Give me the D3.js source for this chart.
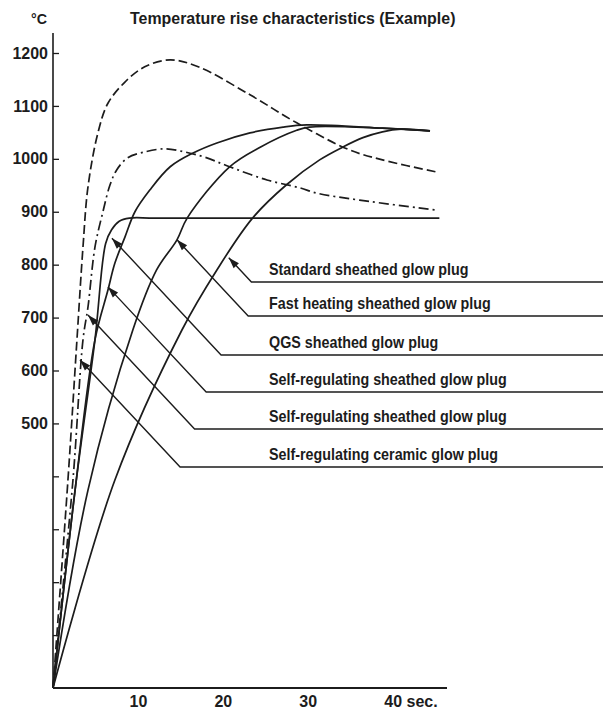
<!DOCTYPE html>
<html>
<head>
<meta charset="utf-8">
<script src="https://cdn.jsdelivr.net/npm/d3@7"></script>
<style>
  html, body { margin: 0; padding: 0; background: #fff; }
  svg { display: block; }
  text {
    font-family: "Liberation Sans", Arial, sans-serif;
    font-weight: bold;
    fill: #1c1c1c;
  }
</style>
</head>
<body>
<svg id="chart" width="603" height="710"></svg>
<script>
// Temperature rise curves: [seconds, °C]
const standardPlug = [[0,0],[7.29,393],[15.2,677],[19.3,790],[23.5,888],[27.5,951],[31.4,998],[34.1,1022],[36.5,1040],[38.8,1051],[41,1056],[44.4,1053]];
const fastHeatingPlug = [[0,0],[4.12,374],[9.41,677],[12.2,790],[14.6,847],[15.8,888],[20.8,985],[24.4,1022],[28.7,1054],[30.2,1060],[38.8,1058],[44.4,1053]];
const qgsPlug = [[0,0],[2.6,374],[4.94,658],[6.2,840],[6.9,866],[7.8,882],[9.0,888],[12,888],[45.5,888]];
const selfRegSheathedSolid = [[0,0],[2.6,374],[4.94,658],[6.47,752],[7.29,803],[8.47,852],[9.65,900],[11.4,941],[13.8,985],[16.5,1011],[19.3,1030],[23.2,1049],[27.1,1060],[29.9,1064],[38.8,1058],[44.4,1053]];
const selfRegSheathedDashDot = [[0,0],[2.35,393],[3.53,658],[4.12,720],[4.94,833],[5.88,900],[6.7,950],[7.5,979],[8.8,1002],[10.8,1013],[13.2,1019],[15.5,1013],[17.9,1003],[20.8,985],[25.2,960],[29.1,945],[31.1,935],[36.1,922],[45.3,903]];
const selfRegCeramic = [[0,0],[1.76,393],[2.82,658],[3.53,833],[4.12,947],[5.29,1049],[6.47,1105],[8.47,1145],[10.8,1174],[13.8,1187],[17.1,1174],[23.2,1121],[28.7,1068],[34.9,1017],[38.8,998],[45.2,975]];

// Legend rows (top to bottom) and the curve point each pointer arrow touches
const plugNames = ["Standard sheathed glow plug", "Fast heating sheathed glow plug", "QGS sheathed glow plug",
                   "Self-regulating sheathed glow plug", "Self-regulating sheathed glow plug", "Self-regulating ceramic glow plug"];
const pointerTime = [20.7, 14.6, 6.94, 6.47, 4.12, 3.18];
const pointerTemp = [813, 847, 850, 758, 705, 620];

// Axis ticks
const tempTicks = [100,200,300,400,500,600,700,800,900,1000,1100,1200];
const timeTicks = [10, 20, 30, 40];

const svg = d3.select("#chart");
const ink = "#1c1c1c";

const x = d3.scaleLinear().domain([0, 46.4]).range([53, 447]);
const y = d3.scaleLinear().domain([0, 1200]).range([688, 53]);

// condensed bold text
function narrowText(parent, px, py, size, sx, str) {
  return parent.append("text")
    .attr("transform", `translate(${px},${py}) scale(${sx},1)`)
    .style("font-size", size + "px")
    .text(str);
}

// Title and unit
narrowText(svg, 130, 24, 17, 0.937, "Temperature rise characteristics (Example)");
narrowText(svg, 31, 24, 15, 0.95, "°C");

// Y axis: inward ticks, labels from 500 upward
const yAxis = d3.axisLeft(y).tickValues(tempTicks).tickSize(-6).tickPadding(5)
  .tickFormat(d => d >= 500 ? d : "");
const gy = svg.append("g").attr("transform", `translate(${x(0)},0)`).call(yAxis);
gy.select(".domain").remove();
gy.selectAll(".tick line").attr("stroke", ink).attr("stroke-width", 1.3);
gy.selectAll(".tick text").style("font-size", "16px").attr("fill", ink);
svg.append("line").attr("x1", x(0)).attr("x2", x(0)).attr("y1", y(0)).attr("y2", y(1238))
  .attr("stroke", ink).attr("stroke-width", 1.6);

// X axis
const xAxis = d3.axisBottom(x).tickValues(timeTicks).tickSize(0).tickPadding(8);
const gx = svg.append("g").attr("transform", `translate(0,${y(0)})`).call(xAxis);
gx.select(".domain").remove();
gx.selectAll(".tick text").style("font-size", "16px").attr("fill", ink);
svg.append("line").attr("x1", x(0)).attr("x2", x(46.4)).attr("y1", y(0)).attr("y2", y(0))
  .attr("stroke", ink).attr("stroke-width", 1.8);
// unit after the last tick value
const lastTick = gx.selectAll(".tick text").filter(d => d === 40);
const halfW = lastTick.node().getComputedTextLength() / 2;
lastTick.attr("text-anchor", "start").attr("x", -halfW).text("40 sec.");

// Curves
const line = d3.line().x(d => x(d[0])).y(d => y(d[1])).curve(d3.curveCatmullRom.alpha(0.5));
const curves = [
  { data: standardPlug, dash: null },
  { data: fastHeatingPlug, dash: null },
  { data: qgsPlug, dash: null },
  { data: selfRegSheathedSolid, dash: null },
  { data: selfRegSheathedDashDot, dash: "10,4,2,4" },
  { data: selfRegCeramic, dash: "9,4" }
];
svg.append("g").selectAll("path").data(curves).join("path")
  .attr("d", c => line(c.data))
  .attr("fill", "none")
  .attr("stroke", ink)
  .attr("stroke-width", 1.7)
  .attr("stroke-dasharray", c => c.dash);

// Legend rows with pointer leaders
const rowLines = [282, 316, 355, 392, 429, 467];
const textX = 269, rightEdge = 603;
const legend = svg.append("g");
plugNames.forEach((name, i) => {
  const ry = rowLines[i];
  const tx = x(pointerTime[i]), ty = y(pointerTemp[i]);
  const bx = tx + (ry - ty) / 1.07;
  legend.append("path")
    .attr("d", `M${tx},${ty}L${bx},${ry}L${rightEdge},${ry}`)
    .attr("fill", "none").attr("stroke", ink).attr("stroke-width", 1.4);
  // arrow head pointing at the curve
  const ang = Math.atan2(ty - ry, tx - bx);
  const len = 11, hw = 3.6;
  const ux = Math.cos(ang), uy = Math.sin(ang);
  const px = tx - ux * len, py = ty - uy * len;
  legend.append("path")
    .attr("d", `M${tx},${ty}L${px - uy * hw},${py + ux * hw}L${px + uy * hw},${py - ux * hw}Z`)
    .attr("fill", ink);
  narrowText(legend, textX, ry - 7, 16, 0.895, name);
});
</script>
</body>
</html>
